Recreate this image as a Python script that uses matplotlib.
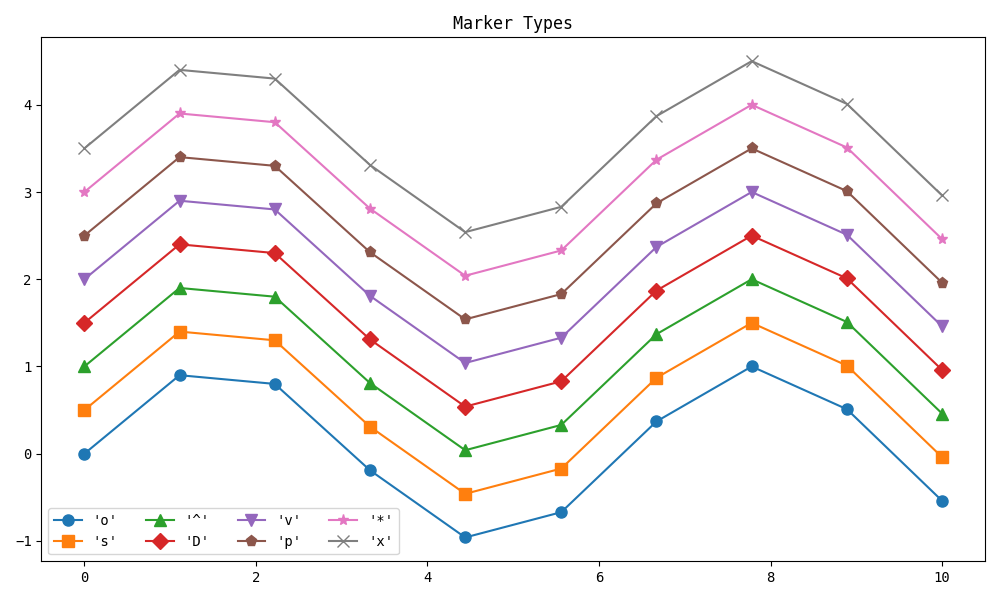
import numpy as np
import matplotlib.pyplot as plt

plt.rcParams['font.family'] = ['DejaVu Sans Mono']
plt.rcParams['axes.unicode_minus'] = True

# x positions and base curve
x = [0.0, 1.11, 2.22, 3.33, 4.44, 5.56, 6.67, 7.78, 8.89, 10.0]
base = [0.0, 0.90, 0.80, -0.19, -0.96, -0.67, 0.37, 1.00, 0.51, -0.54]
markers = ['o', 's', '^', 'D', 'v', 'p', '*', 'x']
offsets = [0.0, 0.5, 1.0, 1.5, 2.0, 2.5, 3.0, 3.5]

fig, ax = plt.subplots(figsize=(10, 6), dpi=100)
for m, off in zip(markers, offsets):
    ax.plot(x, np.array(base) + off, marker=m, markersize=8, label=f"'{m}'")

ax.set_title('Marker Types')
ax.legend(ncol=4, loc='lower left')
fig.tight_layout()
fig.savefig('out.png')
